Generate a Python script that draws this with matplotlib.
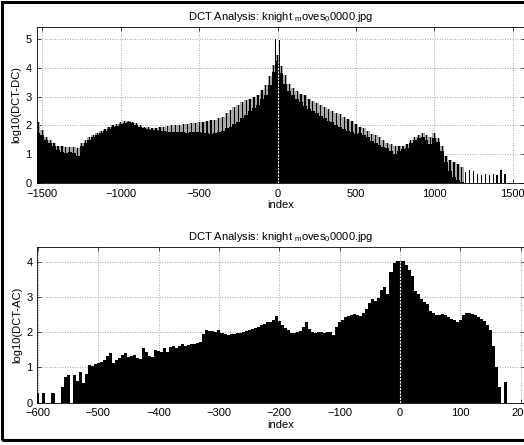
import matplotlib
matplotlib.use("Agg")
import matplotlib.pyplot as plt
import matplotlib.patches as mpatches
import numpy as np

plt.rcParams['font.family'] = ['Liberation Sans', 'DejaVu Sans']
plt.rcParams['mathtext.fontset'] = 'custom'
plt.rcParams['mathtext.rm'] = 'Liberation Sans'
plt.rcParams['mathtext.it'] = 'Liberation Sans'

# ---------------- data: top panel (DC) ----------------
dc_index = list(range(-1525, 1526, 25))
dc_base = [1.75, 1.65, 1.50, 1.38, 1.28, 1.15, 1.08, 1.05, 1.08, 1.05,
           0.95, 1.30, 1.40, 1.50, 1.60, 1.68, 1.75, 1.80, 1.88, 1.93,
           1.98, 2.05, 2.08, 2.10, 2.07, 2.02, 1.95, 1.90, 1.86, 1.84,
           1.83, 1.81, 1.80, 1.78, 1.78, 1.77, 1.78, 1.77, 1.74, 1.76,
           1.76, 1.76, 1.72, 1.72, 1.70, 1.75, 1.78, 1.82, 1.90, 1.95,
           2.05, 2.13, 2.25, 2.35, 2.50, 2.60, 2.72, 2.90, 3.05, 3.40,
           3.85, 4.25, 3.80, 3.42, 3.20, 3.05, 2.93, 2.80, 2.68, 2.58,
           2.50, 2.42, 2.32, 2.24, 2.16, 2.10, 2.02, 1.96, 1.89, 1.82,
           1.76, 1.70, 1.75, 1.68, 1.60, 1.45, 1.40, 1.32, 1.25, 1.20,
           1.12, 1.00, 1.12, 1.18, 1.22, 1.38, 1.50, 1.55, 1.60, 1.50,
           1.35, 1.55, 1.42, 1.10, 0.72, 0.40, 0.20, 0.10, 0.05, 0.00,
           0.00, 0.00, 0.00, 0.00, 0.00, 0.00, 0.00, 0.00, 0.00, 0.00,
           0.00, 0.00, 0.00]
dc_spike = [2.10, 1.85, 1.60, 1.50, 1.40, 1.30, 1.28, 1.25, 1.25, 1.25,
            1.20, 1.40, 1.50, 1.60, 1.68, 1.75, 1.82, 1.88, 1.95, 2.00,
            2.05, 2.10, 2.14, 2.15, 2.12, 2.08, 2.02, 1.96, 1.93, 1.92,
            1.92, 1.95, 1.95, 1.98, 2.00, 2.02, 2.02, 2.05, 2.05, 2.08,
            2.08, 2.10, 2.12, 2.15, 2.18, 2.20, 2.25, 2.30, 2.42, 2.53,
            2.62, 2.72, 2.80, 2.88, 2.93, 3.00, 3.06, 3.22, 3.40, 3.72,
            4.10, 4.45, 4.05, 3.75, 3.45, 3.30, 3.18, 3.10, 3.05, 2.92,
            2.85, 2.78, 2.70, 2.64, 2.58, 2.50, 2.43, 2.38, 2.30, 2.22,
            2.15, 2.05, 1.95, 1.90, 1.82, 1.70, 1.65, 1.58, 1.50, 1.40,
            1.35, 1.30, 1.30, 1.30, 1.35, 1.48, 1.60, 1.68, 1.72, 1.68,
            1.60, 1.75, 1.55, 1.30, 0.95, 0.80, 0.72, 0.65, 0.55, 0.38,
            0.45, 0.42, 0.30, 0.28, 0.30, 0.28, 0.30, 0.28, 0.45, 0.30,
            0.00, 0.00, 0.00]
dc_peak_index = [-12, 12]
dc_peak_value = [4.98, 4.95]

# ---------------- data: bottom panel (AC) ----------------
ac_index = list(range(-600, 176, 5))
ac_value = [0.28, 0.00, 0.28, 0.00, 0.00, 0.28, 0.00, 0.00, 0.45, 0.72,
            0.78, 0.00, 0.80, 0.62, 0.88, 0.55, 0.82, 1.07, 1.05, 1.10,
            1.12, 1.16, 1.20, 1.32, 1.40, 1.12, 1.22, 1.28, 1.36, 1.40,
            1.30, 1.33, 1.35, 1.28, 1.25, 1.55, 1.45, 1.32, 1.30, 1.50,
            1.48, 1.45, 1.55, 1.45, 1.58, 1.60, 1.55, 1.62, 1.66, 1.62,
            1.65, 1.68, 1.66, 1.70, 1.72, 1.95, 2.06, 2.05, 2.04, 2.02,
            2.06, 1.98, 1.94, 1.92, 1.95, 1.94, 1.98, 1.97, 2.01, 2.04,
            2.06, 2.10, 2.12, 2.16, 2.20, 2.24, 2.28, 2.30, 2.34, 2.46,
            2.32, 2.22, 2.12, 2.06, 1.98, 1.97, 2.00, 2.05, 2.16, 2.30,
            2.10, 2.00, 1.98, 2.01, 2.00, 1.98, 2.00, 2.02, 1.92, 2.15,
            2.28, 2.36, 2.42, 2.47, 2.50, 2.52, 2.50, 2.46, 2.55, 2.65,
            2.82, 2.95, 2.88, 2.98, 3.20, 3.28, 3.10, 3.72, 3.98, 4.02,
            4.03, 4.02, 3.92, 3.76, 3.60, 3.18, 3.08, 2.95, 2.87, 2.80,
            2.60, 2.54, 2.50, 2.48, 2.52, 2.48, 2.44, 2.38, 2.34, 2.30,
            2.36, 2.48, 2.55, 2.55, 2.52, 2.48, 2.44, 2.38, 2.32, 2.22,
            2.06, 1.60, 1.00, 0.45, 0.00, 0.60]

title_text = r'DCT Analysis: knight $_{\mathrm{m}}$oves$_{0}$0000.jpg'

W, H = 524, 445
fig = plt.figure(figsize=(W / 100, H / 100), dpi=100)
fig.patch.set_facecolor('white')

def px_axes(left, top, right, bottom):
    return [left / W, 1 - bottom / H, (right - left) / W, (bottom - top) / H]

ax1 = fig.add_axes(px_axes(36.7, 26.8, 525, 183))
ax2 = fig.add_axes(px_axes(37.3, 246.7, 525, 402.7))

FS = 8

def style(ax):
    ax.set_axisbelow(True)
    ax.grid(True, color='#8a8a8a', linestyle=(0, (1, 2)), linewidth=0.6)
    ax.tick_params(direction='in', length=3, width=0.5, labelsize=FS,
                   top=True, right=True, colors='black')
    ax.tick_params(axis='x', pad=4)
    ax.tick_params(axis='y', pad=3.5)
    for s in ax.spines.values():
        s.set_linewidth(0.6)
        s.set_color('black')

# top panel
step1 = 25
fringe = [s if b > 0 else 0.0 for s, b in zip(dc_spike, dc_base)]
ax1.bar(dc_index, fringe, width=step1, color='#a8a8a8', linewidth=0)
ax1.bar(dc_index, dc_spike, width=8, color='black', linewidth=0)
ax1.bar(dc_index, dc_base, width=step1, color='black', linewidth=0)
ax1.bar(dc_peak_index, dc_peak_value, width=5, color='black', linewidth=0)
ax1.axvline(0, ymin=0, ymax=max(dc_base) / 5.42, color='white', lw=0.8,
            linestyle=(0, (2, 1)), zorder=3)
ax1.set_xlim(-1536, 1578)
ax1.set_ylim(0, 5.42)
ax1.set_xticks([-1500, -1000, -500, 0, 500, 1000, 1500])
ax1.set_yticks([0, 1, 2, 3, 4, 5])
style(ax1)
ax1.set_title(title_text, fontsize=FS, pad=5)
ax1.set_xlabel('index', fontsize=FS, labelpad=1)
ax1.set_ylabel('log10(DCT-DC)', fontsize=FS, labelpad=3)

# bottom panel
ax2.bar(ac_index, ac_value, width=5, color='black', linewidth=0)
ax2.axvline(0, ymin=0, ymax=max(ac_value) / 4.43, color='white', lw=0.8,
            linestyle=(0, (2, 1)), zorder=3)
ax2.set_xlim(-601, 207)
ax2.set_ylim(0, 4.43)
ax2.set_xticks([-600, -500, -400, -300, -200, -100, 0, 100, 200])
ax2.set_yticks([0, 1, 2, 3, 4])
style(ax2)
ax2.set_title(title_text, fontsize=FS, pad=5)
ax2.set_xlabel('index', fontsize=FS, labelpad=1)
ax2.set_ylabel('log10(DCT-AC)', fontsize=FS, labelpad=3)

# outer figure frame
frame = mpatches.Rectangle((1.5 / W, 1 - 440 / H), 1.2, (440 - 1.5) / H,
                           transform=fig.transFigure, fill=False,
                           edgecolor='black', linewidth=2.2, zorder=10)
fig.patches.append(frame)

fig.savefig('out.png', dpi=100)
